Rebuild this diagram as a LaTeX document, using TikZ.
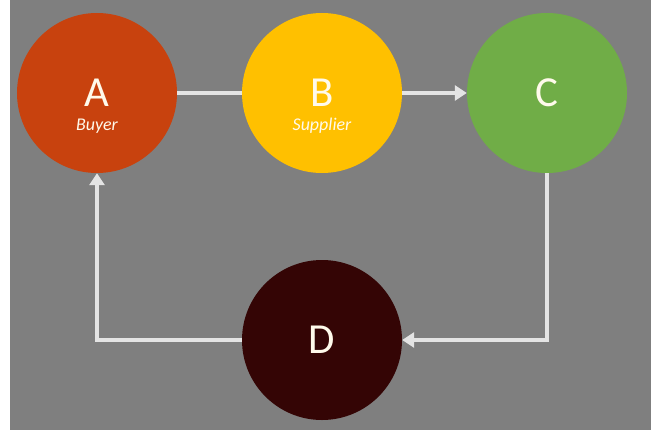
\documentclass[tikz,border=0pt]{standalone}
\usepackage{fontspec}
\setmainfont{Carlito}
\usetikzlibrary{arrows.meta}
\definecolor{bgGray}{RGB}{127,127,127}
\definecolor{buyerRed}{RGB}{200,66,14}
\definecolor{supplierGold}{RGB}{255,192,0}
\definecolor{thirdGreen}{RGB}{112,173,71}
\definecolor{fourthMaroon}{RGB}{52,5,5}
\definecolor{flowWhite}{RGB}{228,228,228}
\definecolor{textCream}{RGB}{255,250,235}
\tikzset{
  party/.style={circle, minimum size=160bp, inner sep=0pt, text=textCream, font=\fontsize{43}{43}\selectfont},
  tag/.style={text=textCream, font=\fontsize{18}{18}\selectfont\itshape},
  flow/.style={draw=flowWhite, line width=4.5bp},
  arrow/.style={flow, -{Triangle[length=12bp,width=15bp]}}
}

\begin{document}
\begin{tikzpicture}[x=1bp,y=1bp]
  \useasboundingbox (0,0) rectangle (651,430);
  \fill[bgGray] (10,0) rectangle (651,430);

  \node[party, fill=buyerRed] (A) at (97,337) {A};
  \node[party, fill=supplierGold] (B) at (322,337) {B};
  \node[party, fill=thirdGreen] (C) at (547,337) {C};
  \node[party, fill=fourthMaroon] (D) at (322,90) {D};
  \node[tag] (buyer) at (97,304) {Buyer};
  \node[tag] (supplier) at (322,304) {Supplier};

  \draw[flow] (A) -- (B);
  \draw[arrow] (B) -- (C);
  \draw[arrow] (C.south) |- (D.east);
  \draw[arrow] (D.west) -| (A.south);
\end{tikzpicture}
\end{document}
